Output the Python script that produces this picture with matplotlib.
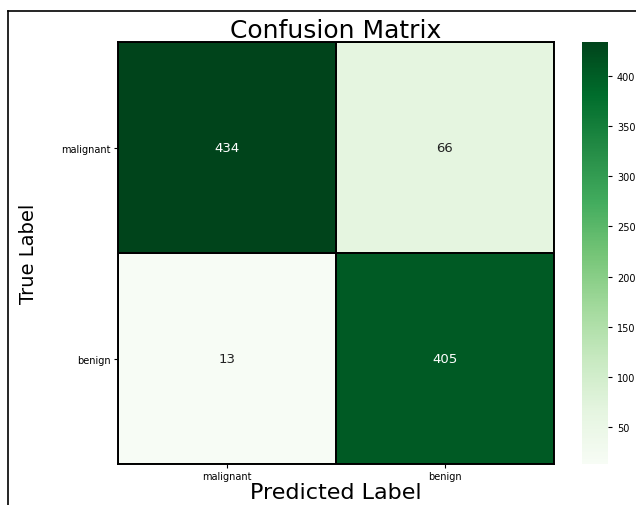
import matplotlib
matplotlib.use("Agg")
import matplotlib.pyplot as plt
import numpy as np
from matplotlib.lines import Line2D

# confusion matrix counts (rows = true, cols = predicted)
classes = ["malignant", "benign"]
counts = np.array([[434, 66],
                   [13, 405]])

fig = plt.figure(figsize=(6.36, 5.06), dpi=100)

# heatmap axes and colorbar axes
ax = fig.add_axes([0.1855, 0.081, 0.6855, 0.834])
cax = fig.add_axes([0.915, 0.081, 0.041, 0.834])

mesh = ax.pcolormesh(counts, cmap="Greens", vmin=counts.min(), vmax=counts.max(),
                     edgecolors="black", linewidth=1.2)
ax.set_xlim(0, 2)
ax.set_ylim(2, 0)
for s in ax.spines.values():
    s.set_linewidth(1.4)

# cell annotations, white on dark cells
thresh = (counts.max() + counts.min()) / 2
for i in range(counts.shape[0]):
    for j in range(counts.shape[1]):
        c = "white" if counts[i, j] > thresh else "#222222"
        ax.text(j + 0.5, i + 0.5, str(counts[i, j]), ha="center", va="center",
                fontsize=9.5, color=c)

ax.set_xticks(np.arange(len(classes)) + 0.5)
ax.set_yticks(np.arange(len(classes)) + 0.5)
ax.set_xticklabels(classes, fontsize=7)
ax.set_yticklabels(classes, fontsize=7)
ax.tick_params(length=3, pad=2)

ax.set_title("Confusion Matrix", fontsize=18, pad=2)
ax.set_xlabel("Predicted Label", fontsize=16, labelpad=1)
ax.set_ylabel("True Label", fontsize=14, labelpad=17)

cb = fig.colorbar(mesh, cax=cax)
cb.set_ticks([50, 100, 150, 200, 250, 300, 350, 400])
cb.ax.tick_params(labelsize=7, length=3)
cb.outline.set_visible(False)

# frame around the figure
fig.add_artist(Line2D([8/636, 8/636], [0, 1 - 12/506], transform=fig.transFigure,
                      color="black", linewidth=1.2))
fig.add_artist(Line2D([8/636, 1], [1 - 12/506, 1 - 12/506], transform=fig.transFigure,
                      color="black", linewidth=1.2))

fig.savefig("out.png", dpi=100)
